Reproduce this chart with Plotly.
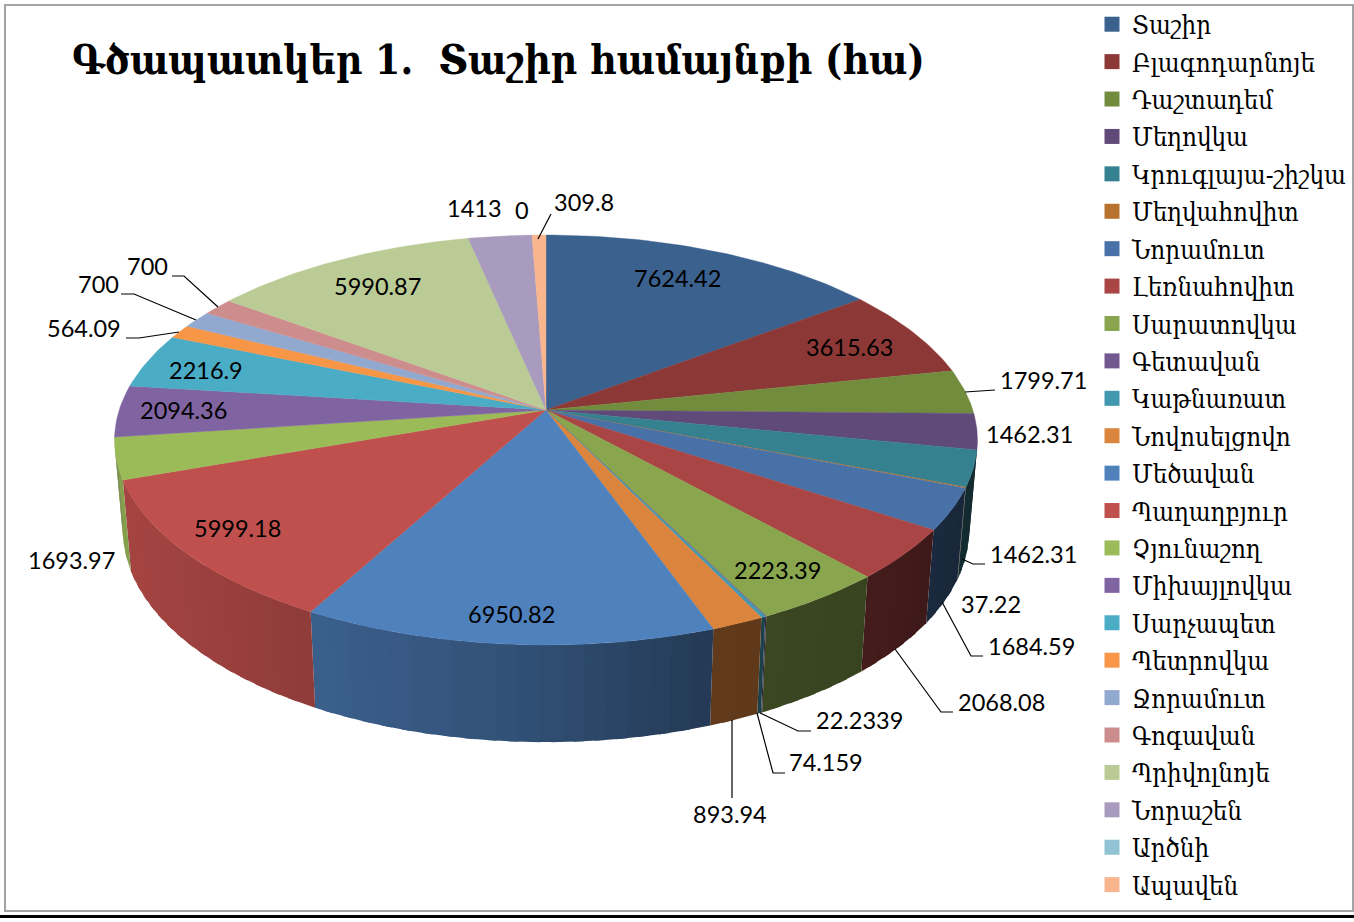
import math
import plotly.graph_objects as go

communities = ["Տաշիր","Բլագոդարնոյե","Դաշտադեմ","Մեղովկա","Կրուգլայա-շիշկա","Մեղվահովիտ","Նորամուտ","Լեռնահովիտ",
               "Սարատովկա","Գետավան","Կաթնառատ","Նովոսելցովո","Մեծավան","Պաղաղբյուր","Չյունաշող","Միխայլովկա",
               "Սարչապետ","Պետրովկա","Ջորամուտ","Գոգավան","Պրիվոլնոյե","Նորաշեն","Արծնի","Ապավեն"]
areas = [7624.42,3615.63,1799.71,1462.31,1462.31,37.22,1684.59,2068.08,2223.39,22.2339,74.159,893.94,
         6950.82,5999.18,1693.97,2094.36,2216.9,564.09,700,700,5990.87,1413,0,309.8]
value_labels = ["7624.42","3615.63","1799.71","1462.31","1462.31","37.22","1684.59","2068.08","2223.39","22.2339",
                "74.159","893.94","6950.82","5999.18","1693.97","2094.36","2216.9","564.09","700","700","5990.87",
                "1413","0","309.8"]
colors = ["#3B618F","#8C3836","#728C3E","#5F4A7A","#35818F","#B8722F","#4871A8","#A94544","#89A54E","#71588F",
          "#4298AF","#DB843D","#4F81BD","#C0504D","#9BBB59","#8064A2","#4BACC6","#F79646","#92A9CF","#CE8D8D",
          "#BACB95","#A99BBD","#92C3D5","#F9B58E"]
label_xy = [(677,278),(849,347),(1043,380),(1029,434),(1033,554),(991,604),(1031,646),(1001,702),(777,570),(859,720),
            (826,762),(730,814),(511,614),(237,528),(71,560),(183,410),(206,370),(84,328),(98,284),(147,266),
            (377,286),(474,208),(522,210),(584,202)]
leaders = [[(995,390),(965,392)],[(985,564),(973,564),(962,559)],[(983,656),(971,656),(942,602)],
           [(953,712),(941,712),(895,649)],[(811,731),(798,731),(760,713)],[(785,773),(773,773),(757,713)],
           [(732,798),(732,720)],[(551,214),(538,239)],[(172,276),(184,276),(218,307)],
           [(121,294),(134,294),(196,320)],[(126,338),(139,338),(179,332)]]

CX, CY, A, B, K = 546.0, 410.0, 426.8, 200.6, 0.1463   # projected disk
SX = 0.981                                             # rim convergence


def top(phi):
    u, v = math.sin(phi), math.cos(phi)
    d = 1 + K * v
    return CX + A * u / d, CY - B * v / d


def bottom(phi):
    x, y = top(phi)
    return CX + SX * (x - CX), y + 97 + 0.035 * (y - 640)


def shade(hex_color, x):
    pts = [(100, .87), (315, .74), (546, .60), (710, .44), (860, .41), (980, .33)]
    f = pts[-1][1]
    for (x0, f0), (x1, f1) in zip(pts, pts[1:]):
        if x <= x1:
            f = f0 + (f1 - f0) * max(0, x - x0) / (x1 - x0)
            break
    r, g, b = [int(hex_color[i:i + 2], 16) for i in (1, 3, 5)]
    return f"rgb({r*f:.0f},{g*f:.0f},{b*f:.0f})"


fig = go.Figure()
total = sum(areas)
spans = []
acc = 0.0
for val in areas:
    spans.append((acc / total * 2 * math.pi, (acc + val) / total * 2 * math.pi))
    acc += val

# rim strips: each overlaps the next one a little so no seams show
for (a0, a1), col, val in zip(spans, colors, areas):
    if val == 0:
        continue
    lo, hi = max(a0, math.radians(97)), min(a1, math.radians(263))
    if hi <= lo:
        continue
    n = max(1, int(math.degrees(hi - lo) / 2.5))
    step = (hi - lo) / n
    for i in range(n):
        p0 = lo + step * i
        p1 = min(hi, p0 + step * 1.5)
        pts = [top(p0), top(p1), bottom(p1), bottom(p0), top(p0)]
        xs, ys = zip(*pts)
        c = shade(col, sum(xs[:4]) / 4)
        fig.add_trace(go.Scatter(x=xs, y=ys, mode="none", fill="toself", fillcolor=c,
                                 showlegend=False, hoverinfo="skip"))

# top faces
for (a0, a1), col, val, name in zip(spans, colors, areas, communities):
    if val == 0:
        continue
    n = max(2, int(math.degrees(a1 - a0)))
    pts = [(CX, CY)] + [top(a0 + (a1 - a0) * i / n) for i in range(n + 1)] + [(CX, CY)]
    xs, ys = zip(*pts)
    fig.add_trace(go.Scatter(x=xs, y=ys, mode="lines", fill="toself", fillcolor=col,
                             line=dict(color=col, width=0.4), showlegend=False, name=name,
                             hovertemplate=f"{name}: {val}<extra></extra>"))

# leader lines
for pts in leaders:
    xs, ys = zip(*pts)
    fig.add_trace(go.Scatter(x=xs, y=ys, mode="lines", line=dict(color="black", width=1.2),
                             showlegend=False, hoverinfo="skip"))

# legend entries
for name, col in zip(communities, colors):
    fig.add_trace(go.Scatter(x=[None], y=[None], mode="markers", name=name, legendgroup=name,
                             marker=dict(symbol="square", size=15, color=col)))

annotations = [dict(x=x, y=y, text=t, showarrow=False, xanchor="center", yanchor="middle",
                    font=dict(family="Lato", size=23.5, color="black"))
               for (x, y), t in zip(label_xy, value_labels)]

fig.update_layout(
    width=1354, height=922, margin=dict(l=0, r=0, t=0, b=0),
    paper_bgcolor="white", plot_bgcolor="white",
    xaxis=dict(range=[0, 1354], visible=False, fixedrange=True),
    yaxis=dict(range=[922, 0], visible=False, fixedrange=True),
    title=dict(text="<b>Գծապատկեր 1.  Տաշիր համայնքի (հա)</b>", x=72/1354, xanchor="left",
               y=1-60/922, yanchor="middle", font=dict(family="DejaVu Serif Condensed", size=40.5, color="black")),
    legend=dict(x=1092/1354, y=1-1/922, xanchor="left", yanchor="top", tracegroupgap=1.0,
                font=dict(family="DejaVu Serif Condensed", size=25.7, color="black"), bgcolor="rgba(0,0,0,0)",
                itemclick=False, itemdoubleclick=False),
    annotations=annotations,
    shapes=[dict(type="rect", xref="x", yref="y", x0=5, y0=5, x1=1353, y1=911, line=dict(color="#A3A3A3", width=2)),
            dict(type="line", xref="x", yref="y", x0=0, y0=916.5, x1=1354, y1=916.5, line=dict(color="black", width=3))],
)
fig.write_html("out.html", config=dict(displayModeBar=False), post_script="document.body.style.margin='0';")
